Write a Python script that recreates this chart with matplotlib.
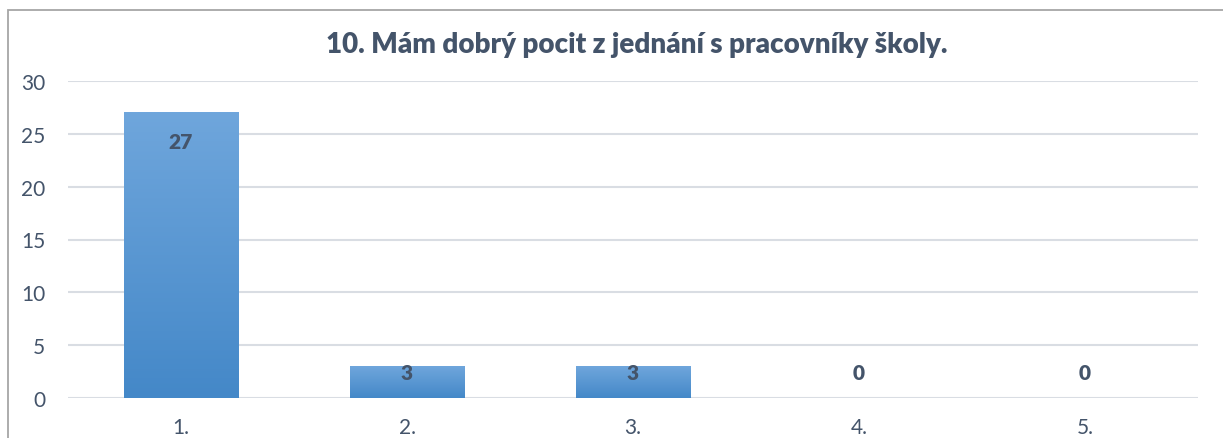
import matplotlib.pyplot as plt
import numpy as np
from matplotlib.patches import Rectangle

# ===== Data =====
CATEGORIES = ["1.", "2.", "3.", "4.", "5."]
VALUES = [27, 3, 3, 0, 0]
TITLE = "10. Mám dobrý pocit z jednání s pracovníky školy."

# ===== Style =====
TEXT_COLOR = "#44546a"
GRID_COLOR = "#d9dde3"
TOP_COLOR = np.array([0x6f, 0xa6, 0xdc]) / 255
BOTTOM_COLOR = np.array([0x44, 0x88, 0xc8]) / 255
FONT = ["Lato", "DejaVu Sans"]

plt.rcParams["font.family"] = FONT

fig = plt.figure(figsize=(12.23, 4.39), dpi=100)
W, H = 1223, 439

# plot area in pixels: x 68..1198, y 82(=30)..399(=0)
ax = fig.add_axes([68 / W, 1 - 399 / H, 1130 / W, 317 / H])
ax.set_xlim(-0.5, len(CATEGORIES) - 0.5)
ax.set_ylim(0, 30)

# gradient bars
bar_width = 0.505
grad = np.linspace(0, 1, 256).reshape(-1, 1)
cmap_arr = BOTTOM_COLOR[None, :] * (1 - grad) + TOP_COLOR[None, :] * grad
cmap_img = cmap_arr.reshape(256, 1, 3)
for i, v in enumerate(VALUES):
    if v <= 0:
        continue
    x0 = i - bar_width / 2
    ax.imshow(cmap_img, extent=[x0, x0 + bar_width, 0, v], origin="lower",
              aspect="auto", zorder=2, interpolation="bilinear")

# data labels (Excel "inside end" style)
for i, v in enumerate(VALUES):
    y = max(v - 2.7, 2.4)
    ax.text(i, y, str(v), ha="center", va="center", fontsize=15,
            fontweight="heavy", color=TEXT_COLOR, zorder=3)

ax.set_xlim(-0.5, len(CATEGORIES) - 0.5)
ax.set_ylim(0, 30)
ax.set_xticks(range(len(CATEGORIES)))
ax.set_xticklabels(CATEGORIES)
ax.set_yticks(range(0, 31, 5))
ax.tick_params(axis="both", length=0, labelsize=15, labelcolor=TEXT_COLOR)
ax.tick_params(axis="y", pad=16.5)
ax.tick_params(axis="x", pad=14)
for lab in ax.get_yticklabels():
    lab.set_horizontalalignment("right")
ax.grid(axis="y", color=GRID_COLOR, linewidth=1.5, zorder=0)
ax.set_axisbelow(True)
for s in ax.spines.values():
    s.set_visible(False)

fig.text(637 / W, 1 - 45 / H, TITLE, ha="center", va="center",
         fontsize=20, fontweight="heavy", color=TEXT_COLOR)

# chart border (cut off on the right and bottom)
fig.patches.append(Rectangle((7.5 / W, -0.1), 1.2, 1 - 10.5 / H + 0.1,
                             transform=fig.transFigure, fill=False,
                             edgecolor="#a6a6a6", linewidth=1.3))

fig.savefig("out.png", dpi=100)
